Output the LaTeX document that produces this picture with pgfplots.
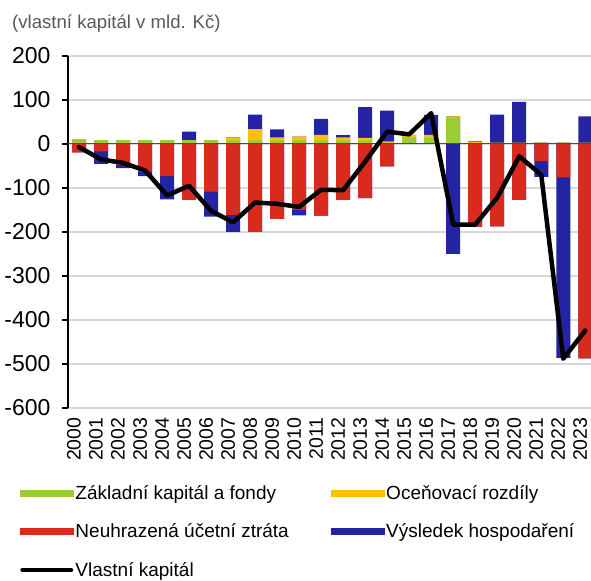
\documentclass[border=0pt]{standalone}
\usepackage{pgfplots}
\pgfplotsset{compat=1.18}
\usepackage{pgfplotstable}
\usepackage{fontspec}
\setmainfont{Liberation Sans}
\usetikzlibrary{calc}
\definecolor{cgreen}{RGB}{154,205,50}
\definecolor{cyellow}{RGB}{255,192,0}
\definecolor{cred}{RGB}{216,43,30}
\definecolor{cblue}{RGB}{35,35,163}
\definecolor{cgrid}{RGB}{217,217,217}
\definecolor{ctitle}{RGB}{89,89,89}

% g = Zakladni kapital a fondy, o = Ocenovaci rozdily,
% r = Neuhrazena ucetni ztrata, b = Vysledek hospodareni, vk = Vlastni kapital
\pgfplotstableread{
x year g o r b vk
0 2000 8 0 -19 2 -7
1 2001 9 0 -17 -28 -35
2 2002 9 0 -48 -7 -43
3 2003 9 0 -63 -10 -60
4 2004 9 0 -73 -53 -117
5 2005 9 0 -127 19 -95
6 2006 8 0 -108 -57 -152
7 2007 8 7 -161 -39 -178
8 2008 8 26 -200 33 -133
9 2009 8 7 -170 18 -136
10 2010 8 9 -150 -12 -143
11 2011 8 13 -163 36 -104
12 2012 8 7 -127 5 -105
13 2013 8 6 -123 70 -40
14 2014 3 3 -51 70 28
15 2015 15 6 0 0 22
16 2016 14 7 0 45 70
17 2017 60 3 0 -250 -183
18 2018 2 2 -188 2 -183
19 2019 0 3 -187 64 -122
20 2020 0 3 -127 93 -28
21 2021 0 3 -39 -36 -70
22 2022 0 3 -76 -410 -488
23 2023 0 3 -487 60 -424
}\data

\begin{document}
\begin{tikzpicture}
\begin{axis}[
  scale only axis, width=523pt, height=352pt,
  xmin=-0.5, xmax=23.26, ymin=-600, ymax=200,
  ytick={-600,-500,...,200},
  xtick={0,...,23},
  xticklabels from table={\data}{year},
  axis x line*=bottom, axis y line*=left,
  x axis line style={draw=none},
  y axis line style={black, line width=1.5pt, -},
  xtick style={draw=none},
  ytick style={black, line width=1.5pt},
  major tick length=6pt, tick align=outside,
  ymajorgrids, grid style={cgrid, line width=1.5pt},
  /pgf/number format/assume math mode=true,
  yticklabel style={font=\fontsize{23}{23}\selectfont, xshift=-8pt},
  xticklabel style={rotate=90, anchor=east, inner ysep=0pt, yshift=5pt, font=\fontsize{19.5}{19.5}\selectfont},
  legend columns=2,
  legend cell align=left,
  legend style={at={(-0.092,-0.213)}, anchor=north west, draw=none, fill=none,
    font=\fontsize{19}{19}\selectfont, inner sep=0pt, row sep=19pt,
    nodes={inner sep=2pt},
    /tikz/every even column/.append style={column sep=40pt}},
]
% positive stack: green, yellow, blue (drawn top-down)
\addplot[ybar, bar width=14pt, bar shift=0pt, fill=cblue, draw=none, forget plot]
  table[x=x, y expr={\thisrow{g}+\thisrow{o}+max(\thisrow{b},0)}]{\data};
\addplot[ybar, bar width=14pt, bar shift=0pt, fill=cyellow, draw=none, forget plot]
  table[x=x, y expr={\thisrow{g}+\thisrow{o}}]{\data};
\addplot[ybar, bar width=14pt, bar shift=0pt, fill=cgreen, draw=none, forget plot]
  table[x=x, y=g]{\data};
% negative stack: red, blue
\addplot[ybar, bar width=14pt, bar shift=0pt, fill=cblue, draw=none, forget plot]
  table[x=x, y expr={\thisrow{r}+min(\thisrow{b},0)}]{\data};
\addplot[ybar, bar width=14pt, bar shift=0pt, fill=cred, draw=none, forget plot]
  table[x=x, y=r]{\data};
\draw[black!70, line width=1pt] (axis cs:-0.5,0) -- (axis cs:23.26,0);
\addplot[sharp plot, black, line width=4.5pt, line join=round, line cap=round, forget plot]
  table[x=x, y=vk]{\data};

\addlegendimage{legend image code/.code={\fill[cgreen] (0pt,-3pt) rectangle (53pt,3pt);}}
\addlegendentry{Základní kapitál a fondy}
\addlegendimage{legend image code/.code={\fill[cyellow] (0pt,-3pt) rectangle (53pt,3pt);}}
\addlegendentry{Oceňovací rozdíly}
\addlegendimage{legend image code/.code={\fill[cred] (0pt,-3pt) rectangle (53pt,3pt);}}
\addlegendentry{Neuhrazená účetní ztráta}
\addlegendimage{legend image code/.code={\fill[cblue] (0pt,-3pt) rectangle (53pt,3pt);}}
\addlegendentry{Výsledek hospodaření}
\addlegendimage{legend image code/.code={\draw[black, line width=4.5pt, line cap=round] (2.25pt,0pt) -- (50.75pt,0pt);}}
\addlegendentry{Vlastní kapitál}
\end{axis}
\node[anchor=base west, font=\fontsize{18.6}{18.6}\selectfont, text=ctitle, inner sep=0pt]
  at ($(current axis.north west)+(-56pt,27pt)$) {(vlastní kapitál v mld. Kč)};
\pgfresetboundingbox
\path[use as bounding box] ($(current axis.south west)+(-68pt,-173pt)$) rectangle ($(current axis.north east)+(0pt,56pt)$);
\end{tikzpicture}
\end{document}
